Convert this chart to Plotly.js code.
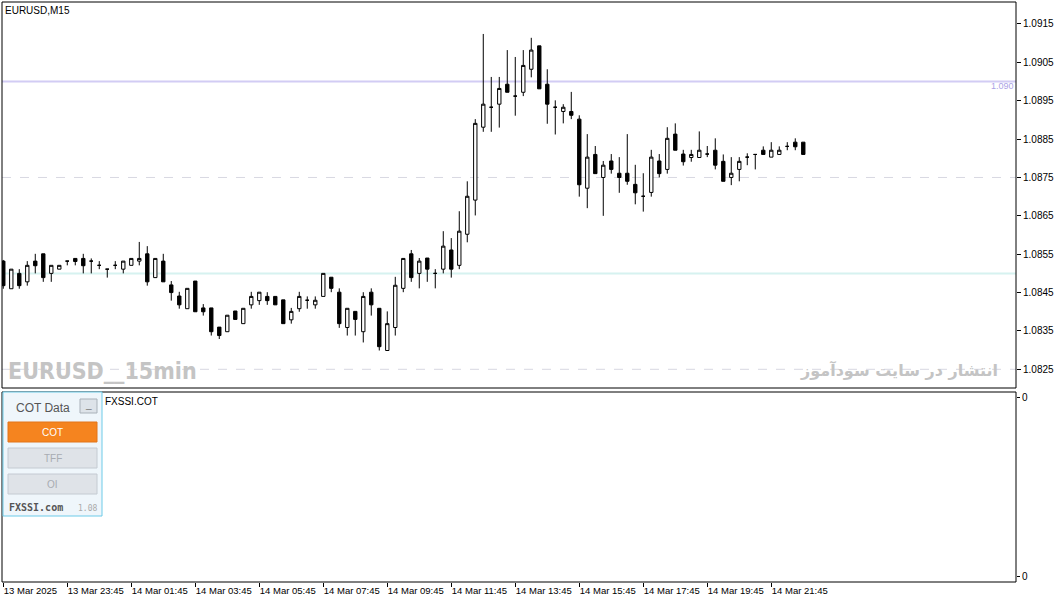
<!DOCTYPE html>
<html>
<head>
<meta charset="utf-8">
<script src="https://cdn.plot.ly/plotly-3.0.1.min.js"></script>
<style>
html,body{margin:0;padding:0;background:#fff;}
#chart{width:1056px;height:604px;}
</style>
</head>
<body>
<div id="chart"></div>
<script>
// ---- data (EURUSD M15, 13 Mar 21:45 .. 14 Mar 22:45) ----
const timeLabels = ["13 Mar 2025","13 Mar 23:45","14 Mar 01:45","14 Mar 03:45","14 Mar 05:45","14 Mar 07:45","14 Mar 09:45","14 Mar 11:45","14 Mar 13:45","14 Mar 15:45","14 Mar 17:45","14 Mar 19:45","14 Mar 21:45"];
const barsPerLabel = 8;

const openP = [
1.08532,1.08460,1.08500,1.08478,1.08532,1.08551,1.08500,1.08511,1.08532,1.08539,
1.08539,1.08532,1.08521,1.08511,1.08521,1.08511,1.08521,1.08532,1.08551,1.08489,
1.08532,1.08470,1.08441,1.08408,1.08480,1.08410,1.08410,1.08360,1.08348,1.08402,
1.08369,1.08418,1.08429,1.08440,1.08440,1.08431,1.08379,1.08408,1.08430,1.08418,
1.08440,1.08490,1.08451,1.08359,1.08401,1.08348,1.08451,1.08409,1.08299,1.08359,
1.08461,1.08551,1.08500,1.08540,1.08500,1.08511,1.08561,1.08521,1.08602,1.08691,
1.08881,1.08933,1.08941,1.08993,1.08962,1.08972,1.09032,1.09093,1.08993,1.08933,
1.08922,1.08922,1.08902,1.08722,1.08810,1.08750,1.08793,1.08761,1.08761,1.08732,
1.08701,1.08711,1.08793,1.08771,1.08863,1.08811,1.08802,1.08802,1.08811,1.08821,
1.08792,1.08750,1.08771,1.08803,1.08810,1.08821,1.08803,1.08810,1.08831,1.08842,
1.08842];
const highP = [
1.08535,1.08511,1.08511,1.08532,1.08551,1.08551,1.08521,1.08521,1.08532,1.08539,
1.08551,1.08539,1.08532,1.08511,1.08532,1.08532,1.08539,1.08582,1.08571,1.08539,
1.08551,1.08480,1.08452,1.08461,1.08480,1.08420,1.08410,1.08360,1.08391,1.08402,
1.08409,1.08452,1.08451,1.08451,1.08440,1.08431,1.08410,1.08452,1.08440,1.08440,
1.08500,1.08490,1.08461,1.08409,1.08401,1.08451,1.08461,1.08409,1.08401,1.08491,
1.08539,1.08561,1.08540,1.08540,1.08511,1.08610,1.08592,1.08662,1.08740,1.08902,
1.09124,1.09012,1.09012,1.09082,1.09064,1.09082,1.09114,1.09093,1.09032,1.08951,
1.08941,1.08973,1.08912,1.08863,1.08832,1.08793,1.08811,1.08803,1.08863,1.08783,
1.08761,1.08822,1.08811,1.08881,1.08891,1.08822,1.08822,1.08870,1.08832,1.08852,
1.08810,1.08803,1.08803,1.08813,1.08810,1.08831,1.08842,1.08831,1.08842,1.08852,
1.08842];
const lowP = [
1.08460,1.08460,1.08460,1.08468,1.08500,1.08478,1.08478,1.08511,1.08521,1.08521,
1.08500,1.08500,1.08511,1.08489,1.08511,1.08500,1.08521,1.08521,1.08468,1.08489,
1.08478,1.08429,1.08408,1.08408,1.08400,1.08390,1.08338,1.08329,1.08348,1.08380,
1.08369,1.08408,1.08418,1.08418,1.08418,1.08369,1.08369,1.08400,1.08408,1.08408,
1.08440,1.08451,1.08358,1.08338,1.08338,1.08320,1.08390,1.08299,1.08299,1.08338,
1.08451,1.08478,1.08461,1.08478,1.08461,1.08500,1.08489,1.08511,1.08581,1.08651,
1.08869,1.08869,1.08880,1.08972,1.08911,1.08962,1.09011,1.08981,1.08890,1.08862,
1.08891,1.08902,1.08700,1.08670,1.08760,1.08650,1.08760,1.08710,1.08731,1.08680,
1.08661,1.08700,1.08750,1.08760,1.08821,1.08781,1.08791,1.08802,1.08803,1.08771,
1.08740,1.08730,1.08740,1.08782,1.08771,1.08810,1.08803,1.08810,1.08821,1.08821,
1.08810];
const closeP = [
1.08468,1.08511,1.08468,1.08521,1.08520,1.08489,1.08521,1.08521,1.08532,1.08531,
1.08520,1.08532,1.08521,1.08511,1.08521,1.08532,1.08539,1.08539,1.08478,1.08539,
1.08478,1.08450,1.08418,1.08461,1.08400,1.08400,1.08348,1.08338,1.08391,1.08380,
1.08409,1.08440,1.08451,1.08429,1.08418,1.08369,1.08401,1.08440,1.08430,1.08430,
1.08500,1.08461,1.08369,1.08409,1.08380,1.08440,1.08418,1.08309,1.08369,1.08469,
1.08539,1.08489,1.08532,1.08511,1.08500,1.08571,1.08511,1.08610,1.08701,1.08891,
1.08941,1.08933,1.08982,1.08972,1.08962,1.09042,1.09082,1.08981,1.08941,1.08933,
1.08933,1.08912,1.08731,1.08803,1.08760,1.08782,1.08771,1.08750,1.08740,1.08710,
1.08701,1.08803,1.08760,1.08852,1.08821,1.08791,1.08810,1.08821,1.08811,1.08782,
1.08740,1.08761,1.08792,1.08803,1.08810,1.08810,1.08821,1.08821,1.08831,1.08830,
1.08810];

const priceTicks = [1.0825,1.0835,1.0845,1.0855,1.0865,1.0875,1.0885,1.0895,1.0905,1.0915];
const levelPurple = 1.0900;
const levelCyan = 1.0850;
const levelDashed = [1.0875, 1.0825];
const cotTicks = [0.03, 0.97];
const cotTickText = ["0","0"];

// ---- geometry helpers (pixel -> paper) ----
const W = 1056, H = 604;
const M = {l:2, r:40, t:2, b:22};
const PW = W - M.l - M.r, PH = H - M.t - M.b;
const px = x => (x - M.l) / PW;
const py = y => 1 - (y - M.t) / PH;

const barIdx = openP.map((_, i) => i);
const tickIdx = timeLabels.map((_, k) => k * barsPerLabel);

const FONT = "Liberation Sans, Arial, sans-serif";

const candles = {
  type: 'candlestick',
  x: barIdx, open: openP, high: highP, low: lowP, close: closeP,
  xaxis: 'x', yaxis: 'y',
  increasing: {line: {color: '#000000', width: 1}, fillcolor: '#ffffff'},
  decreasing: {line: {color: '#000000', width: 1}, fillcolor: '#000000'},
  whiskerwidth: 0,
  hoverinfo: 'skip',
  showlegend: false
};
const empty = {type: 'scatter', x: [], y: [], xaxis: 'x', yaxis: 'y2', showlegend: false, hoverinfo: 'skip'};

const shapes = [
  // level lines
  {type:'line', xref:'paper', yref:'y', x0:0, x1:1, y0:levelPurple, y1:levelPurple, line:{color:'#d2ccf4', width:2}, layer:'below'},
  {type:'line', xref:'paper', yref:'y', x0:0, x1:1, y0:levelCyan, y1:levelCyan, line:{color:'#d6f2f0', width:2}, layer:'below'},
  ...levelDashed.map(v => ({type:'line', xref:'paper', yref:'y', x0:0, x1:1, y0:v, y1:v, line:{color:'#d8d8e2', width:1, dash:'dash'}, layer:'below'})),
  // panel frames
  {type:'rect', xref:'paper', yref:'paper', x0:0, x1:1, y0:py(388), y1:1, line:{color:'#000', width:1}, fillcolor:'rgba(0,0,0,0)'},
  {type:'rect', xref:'paper', yref:'paper', x0:0, x1:1, y0:0, y1:py(392), line:{color:'#000', width:1}, fillcolor:'rgba(0,0,0,0)'},
  // COT panel
  {type:'rect', xref:'paper', yref:'paper', x0:px(3), x1:px(102), y0:py(516), y1:py(392), line:{color:'#6ccbe8', width:1}, fillcolor:'#eff6fb'},
  {type:'rect', xref:'paper', yref:'paper', x0:px(80), x1:px(97), y0:py(413), y1:py(399), line:{color:'#a9b1b9', width:1}, fillcolor:'#dde3e9'},
  {type:'rect', xref:'paper', yref:'paper', x0:px(8), x1:px(97), y0:py(442), y1:py(422), line:{color:'#e2741a', width:1}, fillcolor:'#f5841f'},
  {type:'rect', xref:'paper', yref:'paper', x0:px(8), x1:px(97), y0:py(468), y1:py(448), line:{color:'#c4cad2', width:1}, fillcolor:'#dfe3e8'},
  {type:'rect', xref:'paper', yref:'paper', x0:px(8), x1:px(97), y0:py(494), y1:py(474), line:{color:'#c4cad2', width:1}, fillcolor:'#dfe3e8'}
];

const ann = (text, x, y, xanchor, size, color, extra) => Object.assign({
  text, xref:'paper', yref:'paper', x:px(x), y:py(y), xanchor, yanchor:'middle',
  showarrow:false, font:{family:FONT, size, color}, borderpad:0
}, extra || {});

const annotations = [
  ann('EURUSD,M15', 4, 11, 'left', 10, '#000'),
  ann('1.090', 1015, 86, 'right', 9, '#aaa2e6'),
  ann('EURUSD__15min', 7, 371, 'left', 23, '#c4c4c4', {font:{family:'Liberation Sans Narrow, DejaVu Sans Condensed, Arial Narrow, sans-serif', size:23, color:'#c4c4c4', weight:'bold'}}),
  ann('انتشار در سایت سودآموز', 999, 370, 'right', 16, '#c4c4c4', {font:{family:'DejaVu Sans, sans-serif', size:16, color:'#c4c4c4', weight:'bold'}}),
  ann('FXSSI.COT', 104, 401, 'left', 10, '#000'),
  ann('COT Data', 43, 408, 'center', 12, '#555'),
  ann('_', 88.5, 404, 'center', 10, '#777'),
  ann('COT', 52.5, 432, 'center', 10, '#ffffff'),
  ann('TFF', 52.5, 458, 'center', 10, '#a8acb2'),
  ann('OI', 52.5, 484, 'center', 10, '#a8acb2'),
  ann('FXSSI.com', 8, 507, 'left', 10, '#555', {font:{family:'DejaVu Sans Mono, monospace', size:10, color:'#555', weight:'bold'}}),
  ann('1.08', 98, 508, 'right', 8, '#aaa', {font:{family:'DejaVu Sans Mono, monospace', size:8, color:'#aaa'}})
];

const layout = {
  width: W, height: H,
  margin: M,
  paper_bgcolor: '#ffffff', plot_bgcolor: '#ffffff',
  showlegend: false,
  boxgap: 0.4,
  xaxis: {
    domain: [0, 1], anchor: 'y2', range: [-0.16, 126.59],
    tickvals: tickIdx, ticktext: timeLabels,
    ticks: 'outside', ticklen: 4, tickcolor: '#000', tickwidth: 1,
    ticklabelposition: 'outside right', tickangle: 0, automargin: false,
    tickfont: {family: FONT, size: 9.5, color: '#000'},
    showgrid: false, zeroline: false, showline: false,
    rangeslider: {visible: false}, fixedrange: true
  },
  yaxis: {
    domain: [py(388), 1], anchor: 'x', side: 'right',
    range: [1.082013, 1.092073],
    tickvals: priceTicks, ticktext: priceTicks.map(v => v.toFixed(4)),
    ticks: 'outside', ticklen: 4, tickcolor: '#000', automargin: false,
    tickfont: {family: FONT, size: 10, color: '#000'},
    showgrid: false, zeroline: false, showline: false, fixedrange: true
  },
  yaxis2: {
    domain: [0, py(392)], anchor: 'x', side: 'right',
    range: [0, 1],
    tickvals: cotTicks, ticktext: cotTickText,
    ticks: 'outside', ticklen: 3, tickcolor: '#000', automargin: false,
    tickfont: {family: FONT, size: 10, color: '#000'},
    showgrid: false, zeroline: false, showline: false, fixedrange: true
  },
  shapes, annotations
};

Plotly.newPlot('chart', [candles, empty], layout, {displayModeBar: false, staticPlot: true});
</script>
</body>
</html>
